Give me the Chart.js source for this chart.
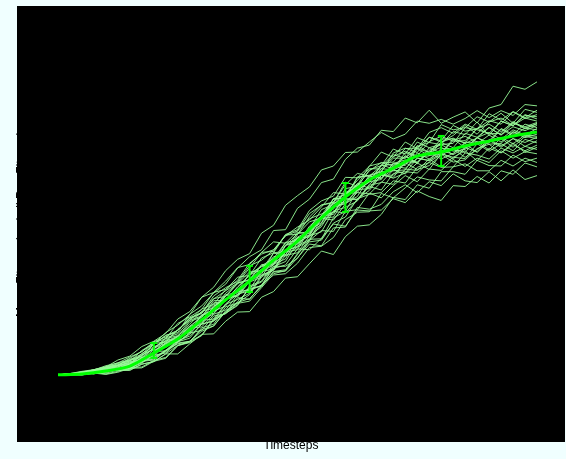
<!DOCTYPE html>
<html>
<head>
<meta charset="utf-8">
<title>Fitness over timesteps</title>
<script src="https://cdn.jsdelivr.net/npm/chart.js"></script>
<style>
    html, body { margin: 0; padding: 0; background: #f0ffff; }
    canvas { display: block; }
</style>
</head>
<body>
<canvas id="fitness-chart" width="566" height="459"></canvas>
<script>
(function () {
    "use strict";

    // Timesteps of the individual runs
    var timesteps = [0, 2.5, 5, 7.5, 10, 12.5, 15, 17.5, 20, 22.5, 25, 27.5, 30, 32.5, 35, 37.5, 40, 42.5, 45, 47.5, 50,
        52.5, 55, 57.5, 60, 62.5, 65, 67.5, 70, 72.5, 75, 77.5, 80, 82.5, 85, 87.5, 90, 92.5, 95, 97.5, 100];

    // Mean fitness curve
    var meanSteps = [0, 5, 10, 15, 20, 25, 30, 35, 40, 45, 50, 55, 60, 65, 70, 75, 80, 85, 90, 95, 100];
    var meanFitness = [15.4, 15.6, 16.3, 17.4, 20.4, 23.6, 28.0, 32.6, 36.9, 41.7, 46.1, 51.4, 56.2, 60.1, 62.8, 65.6,
        66.5, 67.9, 69.0, 70.2, 71.1];

    // Error bars on the mean
    var errSteps = [20, 40, 60, 80];
    var errHigh = [22.7, 40.4, 59.4, 70.2];
    var errLow = [19.3, 34.4, 52.8, 63.3];

    // Fitness of each run
    var runs = [
        [15.4,15.6,16.0,16.3,16.9,17.6,19.0,19.6,22.4,24.5,25.1,29.3,31.2,34.2,36.2,39.9,42.5,44.1,48.5,48.7,53.6,55.7,59.5,60.3,64.8,67.4,68.1,71.5,71.2,74.3,73.2,76.1,73.1,74.5,75.7,73.2,76.6,77.4,81.6,80.9,82.6],
        [15.4,15.7,15.7,16.5,16.9,17.6,19.2,20.8,22.5,25.1,26.8,29.2,33.2,35.5,39.3,41.9,43.2,47.9,49.7,54.3,56.5,58.5,62.4,63.3,66.4,66.5,68.8,71.0,69.5,70.6,73.6,73.1,74.0,72.9,74.2,76.0,74.4,76.0,74.9,77.4,77.1],
        [15.4,15.4,15.8,16.3,16.4,17.6,17.9,20.3,21.8,23.2,25.7,28.2,29.5,32.8,34.7,36.5,39.9,43.5,43.7,47.6,48.7,53.1,55.3,56.4,60.7,60.6,63.2,66.5,65.3,68.8,67.3,71.0,72.1,70.8,72.9,71.7,75.3,73.8,75.8,74.4,76.1],
        [15.4,15.4,15.4,15.8,15.8,16.5,16.6,17.8,18.5,20.2,22.2,22.9,26.2,27.0,31.0,31.9,33.8,37.9,39.4,43.6,44.1,48.7,50.3,55.1,56.9,58.6,62.4,63.4,67.2,66.0,69.8,68.7,72.8,71.6,72.1,74.6,73.4,75.4,73.1,76.3,75.6],
        [15.4,15.5,16.1,16.3,17.2,18.2,18.8,20.2,22.6,22.9,25.8,27.9,28.9,31.9,32.3,35.6,38.3,39.5,43.3,42.9,47.6,50.5,51.4,54.7,56.0,60.6,61.2,61.9,66.3,67.4,66.4,69.9,69.1,72.6,71.3,71.8,73.7,72.9,75.7,74.2,75.1],
        [15.4,15.6,15.5,15.8,16.6,16.7,18.1,19.0,20.6,23.4,23.4,26.2,29.0,30.4,33.4,36.5,37.1,38.5,43.4,43.7,48.1,47.7,52.0,55.7,56.0,60.8,61.0,62.2,65.1,65.1,68.8,67.5,68.3,71.2,70.5,73.4,70.3,73.6,72.5,75.1,74.1],
        [15.4,15.6,15.7,15.7,16.2,16.8,16.7,18.6,19.0,21.0,22.5,23.1,25.4,26.6,29.9,31.8,32.3,35.4,38.6,39.3,43.0,46.5,46.6,51.4,52.9,57.7,59.7,60.2,64.0,63.4,67.8,68.7,68.2,68.5,72.1,71.6,70.8,73.6,72.6,74.3,73.6],
        [15.4,15.6,15.8,16.6,17.3,17.7,18.7,19.8,22.4,24.4,25.6,28.5,29.6,33.5,35.4,36.8,40.4,41.7,44.0,47.3,49.3,50.9,53.9,57.2,56.9,60.0,62.7,62.6,65.5,66.7,65.6,68.9,70.1,69.0,69.1,71.9,72.9,71.2,73.3,71.8,73.1],
        [15.4,15.4,15.5,16.3,16.4,16.9,17.9,18.8,20.7,22.2,23.7,26.6,28.6,31.5,32.6,34.7,38.6,40.2,41.2,45.8,46.2,48.9,53.3,54.5,57.3,57.7,59.6,63.6,62.6,66.4,65.4,65.6,68.8,69.7,68.5,69.7,72.1,70.4,72.3,71.4,72.6],
        [15.4,15.7,16.2,16.6,17.2,18.8,19.7,21.9,23.1,24.9,28.2,29.9,33.2,34.3,36.9,40.0,40.7,43.5,45.9,45.6,48.4,51.2,52.3,53.4,58.1,58.7,59.6,62.7,62.4,63.7,67.2,65.7,66.1,69.2,70.1,68.8,69.1,71.9,70.6,72.9,72.1],
        [15.4,15.6,15.5,16.1,16.0,16.8,17.7,18.2,20.7,20.9,23.6,25.8,27.0,30.0,31.2,35.0,36.7,37.8,42.2,42.7,44.7,49.1,51.8,52.2,56.9,57.2,61.1,60.6,62.5,65.7,63.8,67.5,66.3,69.5,67.5,69.8,68.6,71.8,70.2,72.0,71.6],
        [15.4,15.4,15.9,15.8,16.9,16.9,17.6,19.3,20.3,22.8,24.2,25.2,29.2,29.5,33.6,33.3,36.8,39.7,40.7,43.5,46.8,47.0,50.2,54.2,54.7,57.9,58.1,62.0,62.2,62.4,66.3,64.9,66.9,66.0,68.8,68.4,70.4,68.8,71.2,70.2,71.1],
        [15.4,15.5,16.0,16.1,17.2,17.7,18.1,19.9,21.3,23.7,24.4,27.0,30.0,30.7,34.1,36.4,37.3,40.4,42.1,45.7,45.4,49.5,51.9,52.7,56.4,59.2,58.2,61.1,63.3,62.8,65.1,64.6,67.3,67.2,66.4,69.8,68.3,68.5,71.1,69.8,70.6],
        [15.4,15.5,15.4,15.9,15.6,16.2,17.1,17.2,18.7,19.4,22.1,23.1,24.5,28.3,29.6,31.5,35.5,36.7,40.2,41.4,45.8,47.3,49.4,53.8,54.7,56.3,60.7,61.2,61.2,64.2,64.2,66.5,64.9,66.2,68.5,66.4,69.0,69.9,68.4,70.4,70.1],
        [15.4,15.6,15.6,16.2,16.3,16.8,17.8,19.0,19.6,22.4,22.9,25.0,27.9,29.4,32.5,34.4,35.0,39.1,39.7,44.0,44.7,46.2,51.3,51.6,55.8,55.6,59.1,61.4,60.5,61.7,65.1,64.5,66.3,64.9,67.4,68.9,67.0,69.7,67.6,70.1,69.6],
        [15.4,15.4,15.9,16.6,16.9,18.0,18.5,21.0,22.7,23.7,27.2,28.7,30.4,34.3,35.0,37.1,41.0,43.1,44.1,47.3,48.4,52.4,54.3,54.9,59.6,58.7,62.2,64.1,63.3,65.5,64.1,66.4,67.6,65.9,67.5,66.6,69.4,67.9,69.6,67.8,69.1],
        [15.4,15.5,15.5,16.0,16.0,16.9,16.9,18.5,19.3,21.1,23.0,23.8,27.1,27.7,31.6,32.7,34.1,38.3,39.4,42.8,43.4,47.3,48.2,53.0,53.8,55.3,58.9,59.5,62.4,61.5,64.0,62.5,66.1,65.3,65.0,68.4,66.7,68.4,66.8,69.4,68.6],
        [15.4,15.6,15.8,16.4,17.1,17.2,18.4,19.1,21.7,23.1,24.3,26.5,27.3,31.2,32.7,33.6,37.0,38.2,39.5,43.7,45.0,46.5,49.9,52.9,52.5,55.6,58.6,57.8,61.6,62.0,61.7,64.2,66.0,64.2,64.7,67.3,68.3,66.3,68.2,66.8,68.1],
        [15.4,15.5,15.8,15.7,16.2,16.8,16.8,18.5,18.8,20.9,22.7,23.1,25.8,26.6,30.1,32.0,32.9,35.7,39.1,39.5,43.2,45.9,46.3,50.2,51.6,55.8,56.8,57.2,59.9,59.4,63.0,64.1,63.0,63.1,66.3,65.8,64.9,67.4,66.3,67.8,67.1],
        [15.4,15.6,15.6,16.5,16.4,17.5,18.3,18.9,21.2,21.7,23.7,26.1,26.4,29.3,30.3,33.8,35.2,35.8,40.3,40.3,42.1,46.2,48.5,48.3,52.9,53.3,57.1,56.0,58.8,61.1,59.7,62.6,62.3,64.8,63.2,65.1,64.1,66.8,65.1,66.6,66.1],
        [15.4,15.4,15.8,15.6,16.3,16.4,16.4,17.9,18.4,20.2,20.2,22.5,24.7,24.8,27.7,29.8,29.9,33.2,34.5,37.6,37.9,40.9,43.8,43.0,47.1,49.5,49.8,52.2,56.1,55.6,59.0,58.2,62.0,62.0,61.4,64.6,63.4,63.3,65.8,64.3,65.1],
        [15.4,15.5,15.7,15.8,16.2,17.1,17.6,19.0,19.5,20.7,23.2,24.3,27.0,27.8,29.6,33.1,32.7,36.1,38.3,38.6,41.0,44.6,44.9,46.9,51.0,52.7,52.8,57.0,56.0,58.3,60.8,60.1,59.9,63.1,63.8,62.2,62.2,64.6,63.3,65.1,64.1],
        [15.4,15.6,15.6,15.9,16.6,16.8,17.9,18.5,20.1,22.2,23.0,24.7,27.9,28.2,31.7,33.9,34.7,36.0,39.8,40.6,44.3,44.1,46.7,50.0,49.5,53.2,53.0,53.2,55.8,54.9,57.6,56.3,55.4,58.8,58.6,60.9,59.4,62.2,61.4,64.0,63.1],
        [15.4,15.4,15.7,15.7,16.2,16.9,16.9,18.1,19.9,20.4,22.9,25.0,25.6,28.9,29.4,32.2,35.0,35.8,39.0,39.2,42.3,45.4,45.0,49.1,49.3,53.8,53.4,54.5,57.4,59.0,57.2,59.7,58.8,61.5,59.9,59.5,62.0,59.9,62.4,60.2,61.1],
        [15.4,15.5,15.4,15.8,15.5,16.0,16.9,17.0,18.5,19.2,22.1,22.8,24.4,28.0,29.5,31.3,35.8,36.9,40.8,42.0,47.0,48.4,50.9,55.8,56.8,58.9,63.3,64.0,64.2,67.3,67.4,69.9,68.8,70.3,72.6,70.6,73.4,74.3,72.6,74.9,74.6],
        [15.4,15.5,15.7,16.4,16.8,17.2,18.7,19.4,21.5,22.7,24.1,27.6,28.7,32.4,32.5,35.4,38.3,40.4,40.8,45.2,45.4,47.5,51.8,52.6,55.7,55.7,57.7,61.2,60.7,64.1,62.5,63.4,65.8,67.2,65.3,67.1,69.2,67.6,69.6,68.7,69.9],
        [15.4,15.4,15.8,15.7,16.7,16.8,17.5,19.4,20.1,22.6,23.9,25.2,29.1,30.3,33.8,34.2,37.2,40.7,40.9,45.1,47.8,48.3,51.4,55.8,56.0,59.3,59.7,63.4,63.7,64.0,68.0,66.4,68.7,67.5,70.8,69.9,72.2,70.4,73.1,72.3,73.3],
        [15.4,15.7,16.1,16.5,17.5,18.1,19.5,20.7,23.0,24.1,25.6,28.4,29.7,32.9,33.4,36.3,39.0,39.3,42.5,42.9,46.9,47.4,51.3,50.9,54.6,57.2,56.9,59.6,59.1,62.6,62.3,64.9,63.1,65.3,66.8,64.5,67.4,66.3,68.6,66.4,67.6],
        [15.4,15.5,15.5,16.1,16.6,16.7,17.5,18.3,20.8,22.6,23.2,25.9,27.1,31.0,32.9,33.8,37.5,39.1,40.6,45.0,46.7,48.0,51.8,54.8,55.0,57.7,61.0,60.4,63.9,64.7,64.1,66.9,68.2,66.7,67.1,69.8,71.0,69.4,71.6,70.4,71.9],
        [15.4,15.5,16.0,16.0,17.1,17.4,17.7,20.0,21.4,23.9,24.8,27.9,30.5,31.6,34.9,37.8,38.2,42.2,43.4,47.5,47.6,51.6,54.4,55.0,59.0,61.6,61.0,63.3,65.9,65.1,67.4,66.4,69.5,69.5,68.6,72.0,70.7,70.8,73.5,72.0,72.9]
    ];

    // Colours
    var runColor = "rgba(152, 251, 152, 0.9)";
    var meanColor = "#00ff00";
    var capHalf = 0.7;

    function toPoints(xs, ys) {
        return xs.map(function (x, i) { return {x: x, y: ys[i]}; });
    }

    var datasets = [];

    // Mean curve on top
    datasets.push({
        data: toPoints(meanSteps, meanFitness),
        borderColor: meanColor,
        borderWidth: 3,
        tension: 0.3,
        pointRadius: 0,
        order: 0
    });

    // Error bars: vertical line and two caps each
    errSteps.forEach(function (t, i) {
        datasets.push({
            data: [{x: t, y: errLow[i]}, {x: t, y: errHigh[i]}],
            borderColor: meanColor, borderWidth: 2, pointRadius: 0, order: 0
        });
        datasets.push({
            data: [{x: t - capHalf, y: errHigh[i]}, {x: t + capHalf, y: errHigh[i]}],
            borderColor: meanColor, borderWidth: 2, pointRadius: 0, order: 0
        });
        datasets.push({
            data: [{x: t - capHalf, y: errLow[i]}, {x: t + capHalf, y: errLow[i]}],
            borderColor: meanColor, borderWidth: 2, pointRadius: 0, order: 0
        });
    });

    // Individual runs underneath
    runs.forEach(function (run) {
        datasets.push({
            data: toPoints(timesteps, run),
            borderColor: runColor,
            borderWidth: 1,
            tension: 0,
            pointRadius: 0,
            order: 1
        });
    });

    // Background: azure page with a black plot region
    var backgroundPlugin = {
        id: "background",
        beforeDraw: function (chart) {
            var a = chart.chartArea;
            var c = chart.ctx;
            c.save();
            c.fillStyle = "#f0ffff";
            c.fillRect(0, 0, chart.width, chart.height);
            c.fillStyle = "#000000";
            c.fillRect(a.left, a.top, a.right - a.left, a.bottom - a.top);
            c.restore();
        }
    };

    var titleFont = {family: "'Liberation Sans', Arial, sans-serif", size: 12, lineHeight: 1.2};

    var ctx = document.getElementById("fitness-chart").getContext("2d");
    var myChart = new Chart(ctx, {
        type: "line",
        data: {datasets: datasets},
        plugins: [backgroundPlugin],
        options: {
            responsive: false,
            animation: false,
            events: [],
            layout: {padding: {top: 6, right: 1, bottom: 0, left: 0}},
            plugins: {
                legend: {display: false},
                tooltip: {enabled: false}
            },
            scales: {
                x: {
                    type: "linear",
                    min: -8.56,
                    max: 105.85,
                    grid: {display: false, drawTicks: false},
                    border: {display: false},
                    ticks: {display: false},
                    title: {
                        display: true,
                        text: "Timesteps",
                        color: "#000000",
                        font: titleFont,
                        padding: {top: -3.4, bottom: 6}
                    }
                },
                y: {
                    type: "linear",
                    min: 0,
                    max: 100,
                    grid: {display: false, drawTicks: false},
                    border: {display: false},
                    ticks: {display: false},
                    title: {
                        display: true,
                        text: "Mean Fitness (and all Run Fitness)",
                        color: "#000000",
                        font: titleFont,
                        padding: {top: 14.2, bottom: -11.6}
                    }
                }
            }
        }
    });
})();
</script>
</body>
</html>
